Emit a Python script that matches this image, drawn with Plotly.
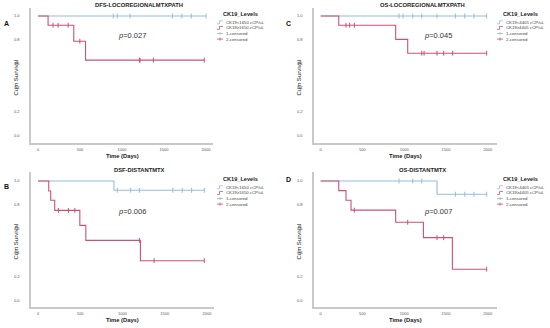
import plotly.graph_objects as go
import numpy as np

W, H = 550, 328

# ---------------- data ----------------
titles = ["DFS-LOCOREGIONALMTXPATH", "OS-LOCOREGIONALMTXPATH", "DSF-DISTANTMTX", "OS-DISTANTMTX"]
panel_letters = ["A", "C", "B", "D"]
p_values = ["0.027", "0.045", "0.006", "0.007"]
legend_low = ["CK19<1650 cCP/uL", "CK19<4405 cCP/uL", "CK19<1650 cCP/uL", "CK19<4405 cCP/uL"]
legend_high = ["CK19\u22651650 cCP/uL", "CK19\u22654405 cCP/uL", "CK19\u22651650 cCP/uL", "CK19\u22654405 cCP/uL"]
x_ticks = [0, 500, 1000, 1500, 2000]
y_ticks = [0.0, 0.2, 0.4, 0.6, 0.8, 1.0]

# Panel A: DFS locoregional
a_low_event_t = []
a_low_event_s = []
a_low_cens_t = [896, 944, 1096, 1602, 1713, 1825, 2000]
a_high_event_t = [120, 426, 566]
a_high_event_s = [0.923, 0.79, 0.632]
a_high_cens_t = [179, 239, 359, 498, 1207, 1215, 1374, 1980]

# Panel C: OS locoregional
c_low_event_t = []
c_low_event_s = []
c_low_cens_t = [938, 986, 1102, 1210, 1393, 1613, 1725, 1836, 1988]
c_high_event_t = [216, 898, 1042]
c_high_event_s = [0.923, 0.805, 0.69]
c_high_cens_t = [303, 347, 403, 1210, 1238, 1393, 1473, 1581, 1988]

# Panel B: DSF distant
b_low_event_t = [899]
b_low_event_s = [0.923]
b_low_cens_t = [939, 1097, 1200, 1596, 1707, 1818, 1968]
b_high_event_t = [127, 150, 198, 495, 566, 1212]
b_high_event_s = [0.917, 0.839, 0.755, 0.63, 0.505, 0.336]
b_high_cens_t = [242, 360, 436, 1200, 1374, 1968]

# Panel D: OS distant
d_low_event_t = [1393]
d_low_event_s = [0.89]
d_low_cens_t = [938, 1102, 1210, 1613, 1725, 1836, 1988]
d_high_event_t = [216, 303, 363, 898, 1230, 1577]
d_high_event_s = [0.92, 0.84, 0.757, 0.656, 0.528, 0.265]
d_high_cens_t = [403, 1042, 1393, 1473, 1988]

panels_data = [
    (a_low_event_t, a_low_event_s, a_low_cens_t, a_high_event_t, a_high_event_s, a_high_cens_t),
    (c_low_event_t, c_low_event_s, c_low_cens_t, c_high_event_t, c_high_event_s, c_high_cens_t),
    (b_low_event_t, b_low_event_s, b_low_cens_t, b_high_event_t, b_high_event_s, b_high_cens_t),
    (d_low_event_t, d_low_event_s, d_low_cens_t, d_high_event_t, d_high_event_s, d_high_cens_t),
]

# ---------------- geometry (pixels) ----------------
geom = [
    dict(x0=38, x2k=206, axl=31, axr=213, y1=16, y0=136, bot=143, top=8, ox=0, oy=0),
    dict(x0=320.7, x2k=487.7, axl=314, axr=497, y1=16, y0=136, bot=143, top=8, ox=275, oy=0),
    dict(x0=38, x2k=207, axl=31, axr=214, y1=181, y0=301, bot=307, top=172, ox=0, oy=164),
    dict(x0=320.7, x2k=487.7, axl=314, axr=497, y1=181, y0=301, bot=307, top=172, ox=275, oy=164),
]

BLUE = "#93BEDC"
RED = "#CB5275"
AXC = "#C9C9C9"
FONT = "Liberation Sans, Arial, sans-serif"

fig = go.Figure()
annotations = []
shapes = []


def px2x(px):
    return px / W


def px2y(py):
    return 1 - py / H


def curve(ev_t, ev_s, cens_t):
    end = max(cens_t + ev_t)
    xs = [0] + list(ev_t) + [end]
    ys = [1.0] + list(ev_s) + [ev_s[-1] if ev_s else 1.0]
    return xs, ys


def surv_at(ev_t, ev_s, t):
    steps_t = np.array([0] + list(ev_t))
    steps_s = np.array([1.0] + list(ev_s))
    idx = np.searchsorted(steps_t, t, side="right") - 1
    return steps_s[idx].tolist()


for i, g in enumerate(geom):
    n = "" if i == 0 else str(i + 1)
    xa, ya = "x" + n, "y" + n
    ppd = (g["x2k"] - g["x0"]) / 2000.0
    ppu = g["y0"] - g["y1"]
    xr = [(g["axl"] - g["x0"]) / ppd, (g["axr"] - g["x0"]) / ppd]
    yr = [-(g["bot"] - g["y0"]) / ppu, 1 + (g["y1"] - g["top"]) / ppu]

    lo_t, lo_s, lo_c, hi_t, hi_s, hi_c = panels_data[i]
    for (et, es, ct, col) in [(lo_t, lo_s, lo_c, BLUE), (hi_t, hi_s, hi_c, RED)]:
        xs, ys = curve(et, es, ct)
        fig.add_trace(go.Scatter(x=xs, y=ys, mode="lines", line=dict(color=col, width=1.1, shape="hv"),
                                 xaxis=xa, yaxis=ya, showlegend=False, hoverinfo="skip"))
        fig.add_trace(go.Scatter(x=ct, y=surv_at(et, es, ct), mode="markers",
                                 marker=dict(symbol="line-ns-open", size=3.5, color=col,
                                             line=dict(color=col, width=1)),
                                 xaxis=xa, yaxis=ya, showlegend=False, hoverinfo="skip"))

    axis_common = dict(showgrid=False, zeroline=False, showline=True, linecolor=AXC, linewidth=1.5,
                       ticks="", tickfont=dict(size=4, color="#555555", family=FONT))
    fig.layout["xaxis" + n] = dict(axis_common, domain=[px2x(g["axl"]), px2x(g["axr"])], range=xr,
                                   tickvals=x_ticks, anchor=ya, ticklabelstandoff=1)
    fig.layout["yaxis" + n] = dict(axis_common, domain=[px2y(g["bot"]), px2y(g["top"])], range=yr,
                                   tickvals=y_ticks, tickformat=".1f", anchor=xa, ticklabelstandoff=9)

    ox, oy = g["ox"], g["oy"]
    cx = (g["axl"] + g["axr"]) / 2
    # title
    annotations.append(dict(text="<b>" + titles[i] + "</b>", x=px2x(cx + 17), y=px2y(oy + 5.5), xref="paper", yref="paper",
                            showarrow=False, font=dict(size=5.8, color="#222", family=FONT), xanchor="center", yanchor="middle"))
    # panel letter
    ly = {0: 24, 1: 24, 2: 187, 3: 179}[i]
    annotations.append(dict(text="<b>" + panel_letters[i] + "</b>", x=px2x(ox + 6 + (7 if i % 2 else 0)), y=px2y(ly),
                            xref="paper", yref="paper", showarrow=False,
                            font=dict(size=7, color="#111", family=FONT), xanchor="center", yanchor="middle"))
    # axis titles
    annotations.append(dict(text="Cum Survival", x=px2x(ox + 15 + (8 if i % 2 else 0)), y=px2y((g["top"] + g["bot"]) / 2 + 2),
                            xref="paper", yref="paper", showarrow=False, textangle=-90,
                            font=dict(size=6, color="#111", family="Arial, Liberation Sans, sans-serif"),
                            xanchor="center", yanchor="middle"))
    annotations.append(dict(text="<b>Time (Days)</b>", x=px2x(cx), y=px2y(g["bot"] + 13),
                            xref="paper", yref="paper", showarrow=False,
                            font=dict(size=5.8, color="#222", family=FONT), xanchor="center", yanchor="middle"))
    # p-value
    pyv = 0.84 if i < 2 else 0.744
    pxv = 1115 if i % 2 == 0 else 1405
    annotations.append(dict(text="<i>p</i>=" + p_values[i], x=pxv, y=pyv, xref=xa, yref=ya, showarrow=False,
                            font=dict(size=7.5, color="#333", family=FONT), xanchor="center", yanchor="middle"))

    # legend (drawn manually)
    lx = ox + 217 + (5 if i % 2 else 0)
    ly0 = oy + 14 + (1 if i >= 2 else 0)
    annotations.append(dict(text="<b>CK19_Levels</b>", x=px2x(lx + 23), y=px2y(ly0), xref="paper", yref="paper",
                            showarrow=False, font=dict(size=5.6, color="#222", family=FONT),
                            xanchor="center", yanchor="middle"))
    items = [(legend_low[i], BLUE, "step"), (legend_high[i], RED, "step"),
             ("1-censored", BLUE, "cens"), ("2-censored", RED, "cens")]
    for k, (txt, col, kind) in enumerate(items):
        iy = ly0 + 8.3 + k * 5.6
        annotations.append(dict(text=txt, x=px2x(lx + 7), y=px2y(iy), xref="paper", yref="paper", showarrow=False,
                                font=dict(size=4.3, color="#444", family=FONT), xanchor="left", yanchor="middle"))
        if kind == "step":
            shapes.append(dict(type="path", xref="paper", yref="paper",
                               path=f"M {px2x(lx)} {px2y(iy + 1.5)} L {px2x(lx + 2.5)} {px2y(iy + 1.5)} L {px2x(lx + 2.5)} {px2y(iy - 1.5)} L {px2x(lx + 6)} {px2y(iy - 1.5)}",
                               line=dict(color=col, width=0.8)))
        else:
            shapes.append(dict(type="line", xref="paper", yref="paper", x0=px2x(lx), x1=px2x(lx + 6),
                               y0=px2y(iy), y1=px2y(iy), line=dict(color=col, width=0.8)))
            shapes.append(dict(type="line", xref="paper", yref="paper", x0=px2x(lx + 3), x1=px2x(lx + 3),
                               y0=px2y(iy - 1.5), y1=px2y(iy + 1.5), line=dict(color=col, width=0.8)))

fig.update_layout(width=W, height=H, margin=dict(l=0, r=0, t=0, b=0), autosize=False,
                  paper_bgcolor="white", plot_bgcolor="white", showlegend=False,
                  annotations=annotations, shapes=shapes, font=dict(family=FONT))
fig.write_html("out.html", config={"displayModeBar": False},
               post_script="document.body.style.margin='0';document.body.style.padding='0';")
